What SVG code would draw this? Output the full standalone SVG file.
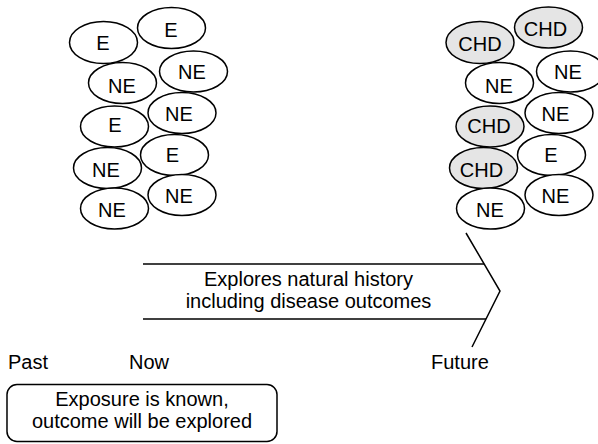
<svg xmlns="http://www.w3.org/2000/svg" width="598" height="444" viewBox="0 0 598 444">
<style>
  .n ellipse { fill: #ffffff; stroke: #000; stroke-width: 1.5; }
  .n.chd ellipse { fill: #e5e5e5; }
  text { font-family: "Liberation Sans", Arial, sans-serif; font-size: 20px; fill: #000; }
  .c { text-anchor: middle; }
  .ln { stroke: #000; stroke-width: 1.5; fill: none; }
</style>
<rect width="598" height="444" fill="#fff"/>
<!-- Past (left) cohort -->
<g id="p1" class="n"><ellipse cx="103.5" cy="42.5" rx="34" ry="21"/><text class="c" x="103" y="50">E</text></g>
<g id="p2" class="n"><ellipse cx="171.5" cy="28" rx="34" ry="20.5"/><text class="c" x="171" y="37">E</text></g>
<g id="p3" class="n"><ellipse cx="122.5" cy="83" rx="34" ry="20.5"/><text class="c" x="122" y="93">NE</text></g>
<g id="p4" class="n"><ellipse cx="193.5" cy="71.5" rx="34" ry="20.5"/><text class="c" x="192" y="78.5">NE</text></g>
<g id="p5" class="n"><ellipse cx="114.5" cy="126.5" rx="34" ry="20.5"/><text class="c" x="115" y="131.5">E</text></g>
<g id="p6" class="n"><ellipse cx="182" cy="113" rx="34" ry="20.5"/><text class="c" x="179" y="121">NE</text></g>
<g id="p7" class="n"><ellipse cx="107.5" cy="168" rx="34" ry="20.5"/><text class="c" x="106" y="176.5">NE</text></g>
<g id="p8" class="n"><ellipse cx="174.5" cy="155" rx="34" ry="20.5"/><text class="c" x="172.5" y="161.5">E</text></g>
<g id="p9" class="n"><ellipse cx="114.5" cy="208.5" rx="34" ry="20.5"/><text class="c" x="112" y="216.5">NE</text></g>
<g id="p10" class="n"><ellipse cx="182" cy="195" rx="34" ry="20.5"/><text class="c" x="179" y="203">NE</text></g>
<!-- Future (right) cohort -->
<g id="f1" class="n chd"><ellipse cx="480" cy="42.5" rx="34" ry="21"/><text class="c" x="480" y="50.5">CHD</text></g>
<g id="f2" class="n chd"><ellipse cx="548.5" cy="27.5" rx="34" ry="20.5"/><text class="c" x="545.5" y="35.5">CHD</text></g>
<g id="f3" class="n"><ellipse cx="499.5" cy="83" rx="34" ry="20.5"/><text class="c" x="499" y="93">NE</text></g>
<g id="f4" class="n"><ellipse cx="570.5" cy="71.5" rx="34" ry="20.5"/><text class="c" x="568" y="78.5">NE</text></g>
<g id="f5" class="n chd"><ellipse cx="490" cy="126.5" rx="34" ry="20.5"/><text class="c" x="489" y="132.5">CHD</text></g>
<g id="f6" class="n"><ellipse cx="559" cy="113" rx="34" ry="20.5"/><text class="c" x="555.5" y="121">NE</text></g>
<g id="f7" class="n chd"><ellipse cx="483.5" cy="168" rx="34" ry="20.5"/><text class="c" x="481.5" y="176.5">CHD</text></g>
<g id="f8" class="n"><ellipse cx="551.5" cy="155" rx="34" ry="20.5"/><text class="c" x="551" y="161.5">E</text></g>
<g id="f9" class="n"><ellipse cx="490.5" cy="208.5" rx="34" ry="20.5"/><text class="c" x="490" y="216.5">NE</text></g>
<g id="f10" class="n"><ellipse cx="559" cy="195" rx="34" ry="20.5"/><text class="c" x="555.5" y="203">NE</text></g>
<!-- Timeline arrow -->
<g id="connectors">
  <line class="ln" x1="143" y1="264" x2="484" y2="264"/>
  <line class="ln" x1="143" y1="319" x2="486" y2="319"/>
  <polyline class="ln" points="466,233 500,291 472,347"/>
</g>
<g id="arrow-label">
  <text class="c" x="308.5" y="286">Explores natural history</text>
  <text class="c" x="308.5" y="308">including disease outcomes</text>
</g>
<g id="time-labels">
  <text x="8" y="369">Past</text>
  <text x="129" y="369">Now</text>
  <text x="431" y="369">Future</text>
</g>
<g id="note">
  <rect x="7" y="384.5" width="270" height="57" rx="10" ry="10" fill="#fff" stroke="#000" stroke-width="1.5"/>
  <text class="c" x="142" y="406">Exposure is known,</text>
  <text class="c" x="142" y="428">outcome will be explored</text>
</g>
</svg>
